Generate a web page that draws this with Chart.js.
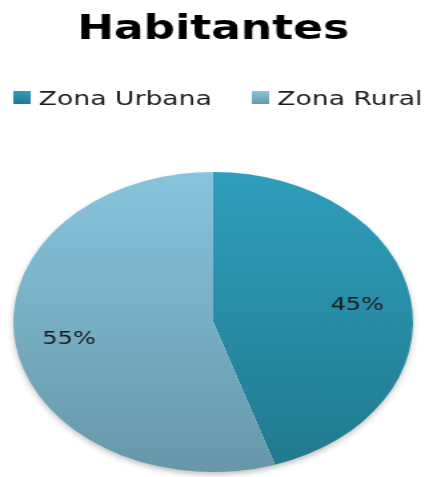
<!DOCTYPE html>
<html>
<head>
<meta charset="utf-8">
<script src="https://cdn.jsdelivr.net/npm/chart.js@4.4.0/dist/chart.umd.min.js"></script>
<style>
  html, body { margin: 0; padding: 0; background: #fff; }
  /* the original picture is stretched sideways, so draw narrow and widen it */
  #wrap { width: 319px; height: 477px; transform: scaleX(1.3323); transform-origin: 0 0; }
</style>
</head>
<body>
<div id="wrap"><canvas id="chart"></canvas></div>
<script>
const chartTitle = "Habitantes";
const categories = ["Zona Urbana", "Zona Rural"];
const shares = [45, 55];

// gradient ends, top and bottom of each slice
const topColors = ["#2f9ebc", "#87c5dd"];
const bottomColors = ["#21798e", "#6797a8"];

Chart.defaults.font.family = "'DejaVu Sans', Verdana, sans-serif";

function vGradient(ctx, top, bottom, i) {
    const g = ctx.createLinearGradient(0, top, 0, bottom);
    g.addColorStop(0, topColors[i]);
    g.addColorStop(1, bottomColors[i]);
    return g;
}

// soft shadow under the pie
const pieShadow = {
    id: "pieShadow",
    beforeDatasetsDraw(chart) {
        const arc = chart.getDatasetMeta(0).data[0];
        if (!arc) return;
        const { x, y, outerRadius } = arc.getProps(["x", "y", "outerRadius"], true);
        const c = chart.ctx;
        c.save();
        c.shadowColor = "rgba(0,0,0,0.3)";
        c.shadowBlur = 6;
        c.shadowOffsetY = 3;
        c.fillStyle = "#fff";
        c.beginPath();
        c.arc(x, y, outerRadius - 1, 0, Math.PI * 2);
        c.fill();
        c.restore();
    }
};

// percentage text inside each slice
const sliceLabels = {
    id: "sliceLabels",
    afterDatasetsDraw(chart) {
        const c = chart.ctx;
        const data = chart.data.datasets[0].data;
        chart.getDatasetMeta(0).data.forEach((arc, i) => {
            const p = arc.getProps(["x", "y", "startAngle", "endAngle", "outerRadius"], true);
            const mid = (p.startAngle + p.endAngle) / 2;
            const r = p.outerRadius * 0.73;
            c.save();
            c.font = "18px 'DejaVu Sans'";
            c.fillStyle = "#1b1b1b";
            c.textAlign = "center";
            c.textBaseline = "middle";
            c.fillText(data[i] + "%", p.x + Math.cos(mid) * r, p.y + Math.sin(mid) * r);
            c.restore();
        });
    }
};

// legend row under the title, spaced like the original
const topLegend = {
    id: "topLegend",
    afterDraw(chart) {
        const c = chart.ctx;
        c.save();
        c.font = "20px 'DejaVu Sans'";
        const box = 13, gap = 6, spacing = 30;
        const widths = categories.map(t => c.measureText(t).width);
        const total = widths.reduce((s, w) => s + box + gap + w, 0) + spacing * (categories.length - 1);
        let x = (chart.width - total) / 2 + 4;
        const boxTop = 91, baseline = 105;
        categories.forEach((t, i) => {
            c.fillStyle = vGradient(c, boxTop, boxTop + box, i);
            c.fillRect(x, boxTop, box, box);
            x += box + gap;
            c.fillStyle = "#1b1b1b";
            c.textBaseline = "alphabetic";
            c.textAlign = "left";
            c.fillText(t, x, baseline);
            x += widths[i] + spacing;
        });
        c.restore();
    }
};

new Chart(document.getElementById("chart"), {
    type: "pie",
    data: {
        labels: categories,
        datasets: [{
            data: shares,
            borderWidth: 0,
            backgroundColor: (ctx) => {
                const area = ctx.chart.chartArea;
                if (!area) return topColors[ctx.dataIndex];
                return vGradient(ctx.chart.ctx, area.top, area.bottom, ctx.dataIndex);
            }
        }]
    },
    options: {
        responsive: true,
        maintainAspectRatio: false,
        animation: false,
        layout: { padding: { left: 10, right: 9, bottom: 5 } },
        plugins: {
            title: {
                display: true,
                text: chartTitle,
                color: "#000",
                font: { size: 33, weight: "bold", lineHeight: 1.2 },
                padding: { top: 11, bottom: 121.4 }
            },
            legend: { display: false },
            tooltip: { enabled: false }
        }
    },
    plugins: [pieShadow, sliceLabels, topLegend]
});
</script>
</body>
</html>
